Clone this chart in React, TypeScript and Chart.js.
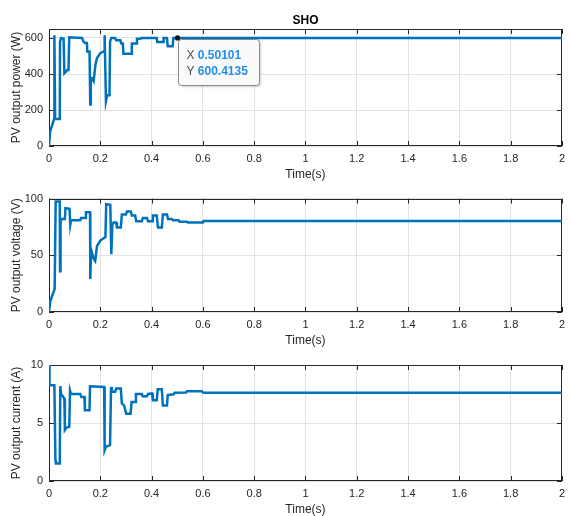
import { useEffect, useRef } from 'react';
import { Chart, registerables } from 'chart.js';

Chart.register(...registerables);

// ---- data ----
const chartTitle = 'SHO';
const timeLabel = 'Time(s)';
const powerLabel = 'PV output power (W)';
const voltageLabel = 'PV output voltage (V)';
const currentLabel = 'PV output current (A)';

const powerTime = [0, 0.004, 0.012, 0.02, 0.021, 0.024, 0.038, 0.042, 0.043, 0.047, 0.057, 0.06, 0.066, 0.071, 0.076, 0.079, 0.129, 0.134, 0.141, 0.148, 0.149, 0.158, 0.161, 0.163, 0.168, 0.174, 0.181, 0.187, 0.2, 0.213, 0.216, 0.217, 0.222, 0.227, 0.236, 0.238, 0.243, 0.258, 0.262, 0.278, 0.282, 0.288, 0.29, 0.32, 0.323, 0.34, 0.343, 0.356, 0.36, 0.42, 0.422, 0.445, 0.447, 0.46, 0.463, 0.482, 0.485, 0.50101, 2];
const powerValue = [0, 77, 114, 150, 615, 150, 150, 150, 580, 600, 596, 404, 413, 422, 422, 604, 600, 581, 572, 572, 525, 525, 230, 380, 376, 361, 450, 488, 516, 525, 525, 615, 249, 282, 282, 581, 600, 600, 587, 587, 569, 569, 513, 513, 569, 569, 596, 596, 600, 600, 578, 578, 600, 600, 554, 554, 600, 600.4135, 600.4];

const voltageTime = [0, 0.005, 0.018, 0.022, 0.026, 0.042, 0.043, 0.045, 0.05, 0.062, 0.064, 0.08, 0.083, 0.086, 0.122, 0.125, 0.142, 0.144, 0.16, 0.161, 0.164, 0.174, 0.18, 0.187, 0.2, 0.213, 0.22, 0.223, 0.239, 0.243, 0.247, 0.252, 0.262, 0.265, 0.28, 0.284, 0.3, 0.304, 0.319, 0.323, 0.336, 0.34, 0.362, 0.366, 0.382, 0.386, 0.402, 0.405, 0.42, 0.425, 0.44, 0.444, 0.46, 0.464, 0.479, 0.483, 0.505, 0.509, 0.538, 0.542, 0.6, 0.603, 2];
const voltageValue = [0, 9.5, 18, 20, 97.5, 97.5, 36, 80, 82, 82, 91.5, 91, 77, 81, 81, 83, 83, 88, 88, 29, 55, 47, 45, 58, 63, 65, 66, 95, 94.5, 51, 77, 79, 79, 74.5, 74.5, 86, 86, 88.7, 88.7, 85, 85, 80, 80, 83, 83, 80, 80, 85, 85, 74.5, 74.5, 86, 86, 82, 82, 81, 81, 79.5, 79.5, 79, 79, 80.3, 80.3];

const currentTime = [0, 0.002, 0.021, 0.025, 0.027, 0.042, 0.044, 0.047, 0.051, 0.06, 0.062, 0.068, 0.079, 0.082, 0.086, 0.122, 0.126, 0.138, 0.14, 0.158, 0.16, 0.215, 0.217, 0.222, 0.238, 0.242, 0.245, 0.258, 0.262, 0.28, 0.284, 0.293, 0.301, 0.318, 0.322, 0.336, 0.339, 0.362, 0.365, 0.382, 0.386, 0.402, 0.405, 0.42, 0.424, 0.44, 0.444, 0.46, 0.463, 0.486, 0.49, 0.534, 0.538, 0.596, 0.602, 2];
const currentValue = [10, 8.25, 8.25, 1.8, 1.5, 1.5, 8.17, 7.5, 7.4, 7.1, 4.4, 4.6, 4.67, 7.8, 7.5, 7.5, 7.25, 7.25, 6.1, 6.1, 8.17, 8.1, 2.66, 2.95, 3.1, 8.1, 7.7, 7.7, 7.97, 7.97, 6.7, 6.5, 5.8, 5.8, 6.8, 6.8, 7.5, 7.5, 7.3, 7.3, 7.5, 7.55, 6.96, 6.96, 7.9, 7.9, 6.5, 6.5, 7.4, 7.48, 7.6, 7.62, 7.74, 7.74, 7.6, 7.6];

const xMin = 0;
const xMax = 2;
const xStep = 0.2;

const powerRange = [0, 650, 200];
const voltageRange = [0, 100, 50];
const currentRange = [0, 10, 5];

const dataTipX = 0.50101;
const dataTipY = 600.4135;

// ---- styling ----
const FONT = "'Liberation Sans', Arial, Helvetica, sans-serif";
const AXIS_COLOR = '#262626';
const GRID_COLOR = '#e3e3e3';
const LINE_COLOR = '#0072BD';
const X_AXIS_H = 40;

function isOnStep(v: number, step: number) {
  const r = v / step;
  return Math.abs(r - Math.round(r)) < 1e-6;
}

const framePlugin = {
  id: 'matlabFrame',
  beforeDatasetsDraw(chart: any) {
    const { ctx, chartArea: a, scales } = chart;
    const tl = 5;
    const yStep = scales.y.options.ticks.stepSize;
    ctx.save();
    ctx.strokeStyle = AXIS_COLOR;
    ctx.lineWidth = 1;
    ctx.beginPath();
    scales.x.ticks.forEach((t: any) => {
      const px = Math.round(scales.x.getPixelForValue(t.value)) + 0.5;
      ctx.moveTo(px, a.bottom);
      ctx.lineTo(px, a.bottom - tl);
      ctx.moveTo(px, a.top);
      ctx.lineTo(px, a.top + tl);
    });
    scales.y.ticks.forEach((t: any) => {
      if (!isOnStep(t.value, yStep)) return;
      const py = Math.round(scales.y.getPixelForValue(t.value)) + 0.5;
      ctx.moveTo(a.left, py);
      ctx.lineTo(a.left + tl, py);
      ctx.moveTo(a.right, py);
      ctx.lineTo(a.right - tl, py);
    });
    ctx.stroke();
    ctx.strokeRect(Math.round(a.left) + 0.5, Math.round(a.top) + 0.5, Math.round(a.right - a.left) - 1, Math.round(a.bottom - a.top) - 1);
    ctx.restore();
  },
};

const titlePlugin = {
  id: 'topTitle',
  afterDraw(chart: any) {
    const opts = chart.options.plugins.topTitle;
    if (!opts || !opts.text) return;
    const { ctx, chartArea: a } = chart;
    ctx.save();
    ctx.font = `bold 12px ${FONT}`;
    ctx.fillStyle = '#000';
    ctx.textAlign = 'center';
    ctx.textBaseline = 'middle';
    ctx.fillText(opts.text, (a.left + a.right) / 2, a.top - 8);
    ctx.restore();
  },
};

const dataTipPlugin = {
  id: 'dataTip',
  afterDraw(chart: any) {
    const opts = chart.options.plugins.dataTip;
    if (!opts || !opts.show) return;
    const { ctx, scales } = chart;
    const px = scales.x.getPixelForValue(opts.x);
    const py = scales.y.getPixelForValue(opts.y);
    ctx.save();
    const bx = Math.round(px + 1) + 0.5;
    const by = Math.round(py + 1) + 0.5;
    const bw = 81;
    const bh = 46;
    const r = 3;
    ctx.shadowColor = 'rgba(0,0,0,0.25)';
    ctx.shadowBlur = 3;
    ctx.shadowOffsetX = 1;
    ctx.shadowOffsetY = 1;
    ctx.beginPath();
    ctx.moveTo(bx + r, by);
    ctx.lineTo(bx + bw - r, by);
    ctx.arcTo(bx + bw, by, bx + bw, by + r, r);
    ctx.lineTo(bx + bw, by + bh - r);
    ctx.arcTo(bx + bw, by + bh, bx + bw - r, by + bh, r);
    ctx.lineTo(bx + r, by + bh);
    ctx.arcTo(bx, by + bh, bx, by + bh - r, r);
    ctx.lineTo(bx, by + r);
    ctx.arcTo(bx, by, bx + r, by, r);
    ctx.closePath();
    ctx.fillStyle = '#fafafa';
    ctx.fill();
    ctx.shadowColor = 'transparent';
    ctx.strokeStyle = '#8a8a8a';
    ctx.lineWidth = 1;
    ctx.stroke();
    ctx.textBaseline = 'middle';
    ctx.textAlign = 'left';
    const tx = px + 9;
    const rows = [
      ['X', String(opts.x)],
      ['Y', String(opts.y)],
    ];
    rows.forEach((row, i) => {
      const ty = py + 17.5 + i * 16;
      ctx.font = `12px ${FONT}`;
      ctx.fillStyle = '#4d4d4d';
      ctx.fillText(row[0], tx, ty);
      const w = ctx.measureText(row[0] + ' ').width;
      ctx.font = `bold 12px ${FONT}`;
      ctx.fillStyle = '#1e8ef0';
      ctx.fillText(row[1], tx + w, ty);
    });
    ctx.beginPath();
    ctx.arc(px, py, 2.6, 0, Math.PI * 2);
    ctx.fillStyle = '#111';
    ctx.fill();
    ctx.restore();
  },
};

function fmtX(v: number) {
  return String(Number(Number(v).toFixed(1)));
}

function makeConfig(
  times: number[],
  values: number[],
  yLabel: string,
  range: number[],
  padTop: number,
  extra: any
): any {
  return {
    type: 'line',
    data: {
      datasets: [
        {
          data: times.map((t, i) => ({ x: t, y: values[i] })),
          borderColor: LINE_COLOR,
          borderWidth: 2.5,
          pointRadius: 0,
          tension: 0,
          fill: false,
        },
      ],
    },
    options: {
      animation: false,
      responsive: false,
      events: [],
      layout: { padding: { top: padTop, left: 0, right: 8, bottom: 0 } },
      plugins: {
        legend: { display: false },
        tooltip: { enabled: false },
        title: { display: false },
        ...extra,
      },
      scales: {
        x: {
          type: 'linear',
          min: xMin,
          max: xMax,
          bounds: 'data',
          afterFit: (s: any) => {
            s.height = X_AXIS_H;
          },
          ticks: {
            stepSize: xStep,
            autoSkip: false,
            maxRotation: 0,
            padding: 6,
            color: AXIS_COLOR,
            font: { family: FONT, size: 11 },
            callback: (v: any) => fmtX(v),
          },
          grid: { color: GRID_COLOR, drawTicks: false, lineWidth: 1 },
          border: { display: false },
          title: {
            display: true,
            text: timeLabel,
            color: AXIS_COLOR,
            font: { family: FONT, size: 12, lineHeight: 1 },
            padding: { top: 0, bottom: 5.5 },
          },
        },
        y: {
          type: 'linear',
          min: range[0],
          max: range[1],
          bounds: 'data',
          afterFit: (s: any) => {
            s.width = 49;
          },
          ticks: {
            stepSize: range[2],
            padding: 6,
            color: AXIS_COLOR,
            font: { family: FONT, size: 11 },
            callback: (v: any) => (isOnStep(Number(v), range[2]) ? String(v) : ''),
          },
          grid: { color: GRID_COLOR, drawTicks: false, lineWidth: 1 },
          border: { display: false },
          title: {
            display: true,
            text: yLabel,
            color: AXIS_COLOR,
            font: { family: FONT, size: 12, lineHeight: 1 },
            padding: { top: 11, bottom: 0 },
          },
        },
      },
    },
    plugins: [framePlugin, titlePlugin, dataTipPlugin],
  };
}

const panels = [
  { top: 0, areaTop: 29, areaBottom: 146 },
  { top: 186, areaTop: 196, areaBottom: 312 },
  { top: 352, areaTop: 365, areaBottom: 481 },
];

export default function App() {
  const r1 = useRef<HTMLCanvasElement | null>(null);
  const r2 = useRef<HTMLCanvasElement | null>(null);
  const r3 = useRef<HTMLCanvasElement | null>(null);

  useEffect(() => {
    const c1 = new Chart(
      r1.current as HTMLCanvasElement,
      makeConfig(powerTime, powerValue, powerLabel, powerRange, panels[0].areaTop - panels[0].top, {
        topTitle: { text: chartTitle },
        dataTip: { show: true, x: dataTipX, y: dataTipY },
      })
    );
    const c2 = new Chart(
      r2.current as HTMLCanvasElement,
      makeConfig(voltageTime, voltageValue, voltageLabel, voltageRange, panels[1].areaTop - panels[1].top, {})
    );
    const c3 = new Chart(
      r3.current as HTMLCanvasElement,
      makeConfig(currentTime, currentValue, currentLabel, currentRange, panels[2].areaTop - panels[2].top, {})
    );
    return () => {
      c1.destroy();
      c2.destroy();
      c3.destroy();
    };
  }, []);

  const refs = [r1, r2, r3];
  return (
    <div
      style={{
        position: 'fixed',
        left: 0,
        top: 0,
        width: 571,
        height: 516,
        background: '#fff',
        overflow: 'hidden',
      }}
    >
      {panels.map((p, i) => {
        const h = p.areaBottom + X_AXIS_H - p.top;
        return (
          <canvas
            key={i}
            ref={refs[i]}
            width={571}
            height={h}
            style={{ position: 'absolute', left: 0, top: p.top, width: 571, height: h, display: 'block' }}
          />
        );
      })}
    </div>
  );
}
